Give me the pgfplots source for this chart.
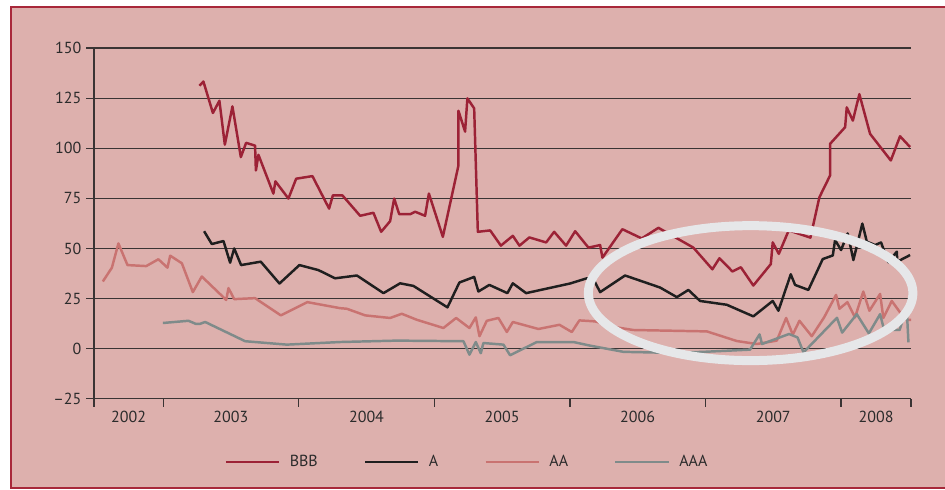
\documentclass[border=0pt]{standalone}
\usepackage{fontspec}
\setmainfont{PT Sans}
\usepackage{pgfplots}
\pgfplotsset{compat=1.18}
\definecolor{bgpink}{HTML}{DDB0AD}
\definecolor{framec}{HTML}{A8283A}
\definecolor{cBBB}{HTML}{9C2236}
\definecolor{cA}{HTML}{1F1F1F}
\definecolor{cAA}{HTML}{C97371}
\definecolor{cAAA}{HTML}{7F8B8A}
\definecolor{ringc}{HTML}{E6E7E9}
\definecolor{gridc}{HTML}{3A3434}
\definecolor{textc}{HTML}{2B2B2B}

\begin{document}
\begin{tikzpicture}
\useasboundingbox (0,0) rectangle (708.75pt,366.75pt);
\fill[white] (0,0) rectangle (708.75pt,366.75pt);
\draw[framec, fill=bgpink, line width=1.6pt] (8.25pt,0.8pt) rectangle (715pt,361.8pt);
\begin{axis}[
  at={(70.5pt,67.7pt)}, anchor=south west,
  scale only axis, width=612.75pt, height=263pt,
  xmin=2002.49, xmax=2008.516, ymin=-25, ymax=150,
  axis lines=left, axis line style={-, gridc, line width=0.95pt},
  ymajorgrids, grid style={gridc, line width=0.95pt},
  ytick={-25,0,25,50,75,100,125,150},
  yticklabels={--25,0,25,50,75,100,125,150},
  xtick={2002.745,2003.5,2004.5,2005.5,2006.5,2007.5,2008.258},
  xticklabels={2002,2003,2004,2005,2006,2007,2008},
  minor xtick={2002.49,2003,2004,2005,2006,2007,2008,2008.516},
  major x tick style={draw=none},
  tick align=outside, major tick length=6pt, minor tick length=6pt,
  tick style={gridc, line width=0.95pt},
  tick label style={font=\fontsize{12}{14}\selectfont, text=textc},
  legend style={at={(0.457,-0.1805)}, anchor=center, draw=none, fill=none,
    legend columns=4, font=\fontsize{12}{14}\selectfont, text=textc,
    /tikz/every even column/.append style={column sep=32.5pt},
    /tikz/every odd column/.append style={column sep=5pt}},
  legend image code/.code={\draw[#1] (0pt,0pt) -- (40pt,0pt);},
  every axis plot/.append style={line width=1.85pt, line join=round},
]
\addplot[cBBB] coordinates {
(2003.268,131.2)(2003.297,133.3)(2003.367,117.6)(2003.415,123.7)(2003.455,101.8)
(2003.511,120.9)(2003.573,95.6)(2003.612,102.7)(2003.678,101.3)(2003.684,88.9)
(2003.703,96.7)(2003.813,77.4)(2003.828,83.5)(2003.924,74.9)(2003.981,84.8)
(2004.101,86.1)(2004.224,69.9)(2004.252,76.5)(2004.322,76.5)(2004.453,66.3)
(2004.551,67.8)(2004.608,58.3)(2004.674,63.6)(2004.704,74.9)(2004.741,67.1)
(2004.822,67.1)(2004.859,68.3)(2004.932,66.3)(2004.960,77.4)(2005.063,55.8)
(2005.178,91.4)(2005.178,118.7)(2005.227,108.3)(2005.244,124.9)(2005.294,119.9)
(2005.321,58.3)(2005.412,59.0)(2005.491,51.4)(2005.579,56.3)(2005.628,51.4)
(2005.701,55.5)(2005.825,53.0)(2005.884,58.3)(2005.972,51.4)(2006.039,58.6)
(2006.137,50.4)(2006.223,51.7)(2006.240,45.4)(2006.387,59.6)(2006.530,55.0)
(2006.653,60.3)(2006.911,50.4)(2007.051,39.6)(2007.103,45.1)(2007.199,38.5)
(2007.261,40.6)(2007.353,31.5)(2007.482,42.2)(2007.496,53.0)(2007.541,47.3)
(2007.614,59.0)(2007.774,55.4)(2007.840,75.5)(2007.919,86.4)(2007.919,102.2)
(2008.030,110.5)(2008.042,120.4)(2008.087,113.8)(2008.135,127.0)(2008.214,107.2)
(2008.367,93.9)(2008.435,106.0)(2008.509,100.6)
};
\addlegendentry{BBB}
\addplot[cA] coordinates {
(2003.302,58.6)(2003.359,52.2)(2003.445,53.7)(2003.494,42.9)(2003.524,50.0)
(2003.575,41.7)(2003.720,43.4)(2003.858,32.5)(2004.005,41.7)(2004.145,39.2)
(2004.268,35.1)(2004.429,36.5)(2004.625,27.7)(2004.748,32.6)(2004.846,31.3)
(2005.097,20.6)(2005.185,33.0)(2005.294,35.8)(2005.325,28.5)(2005.406,31.8)
(2005.539,27.7)(2005.579,32.6)(2005.677,27.7)(2006.001,32.5)(2006.125,35.1)
(2006.178,34.1)(2006.223,28.2)(2006.407,36.5)(2006.665,30.5)(2006.789,25.7)
(2006.874,29.3)(2006.960,23.8)(2007.157,21.9)(2007.353,16.1)(2007.496,23.8)
(2007.538,18.9)(2007.629,37.1)(2007.661,31.8)(2007.759,29.3)(2007.865,44.7)
(2007.939,46.5)(2007.956,54.2)(2008.000,49.2)(2008.049,57.5)(2008.091,44.2)
(2008.157,62.4)(2008.190,53.4)(2008.251,51.7)(2008.295,53.0)(2008.349,43.1)
(2008.411,48.4)(2008.415,43.4)(2008.509,46.7)
};
\addlegendentry{A}
\addplot[cAA] coordinates {
(2002.555,33.5)(2002.622,40.4)(2002.670,52.5)(2002.737,41.7)(2002.875,41.2)
(2002.965,44.6)(2003.032,40.4)(2003.052,46.4)(2003.138,42.6)(2003.219,28.2)
(2003.285,36.0)(2003.465,24.3)(2003.482,30.2)(2003.524,24.7)(2003.678,25.2)
(2003.868,16.6)(2004.064,23.2)(2004.305,20.2)(2004.355,19.9)(2004.490,16.6)
(2004.674,15.3)(2004.760,17.4)(2004.871,14.4)(2005.067,10.3)(2005.161,15.3)
(2005.259,10.3)(2005.306,15.6)(2005.333,6.2)(2005.387,13.9)(2005.473,15.3)
(2005.535,8.3)(2005.579,13.3)(2005.768,9.8)(2005.923,11.9)(2006.014,8.3)
(2006.070,14.1)(2006.186,13.6)(2006.346,10.6)(2006.468,9.3)(2007.010,8.6)
(2007.231,3.8)(2007.378,2.3)(2007.526,4.0)(2007.595,15.3)(2007.644,7.0)
(2007.693,13.9)(2007.784,6.2)(2007.875,15.6)(2007.963,26.8)(2007.988,19.9)
(2008.047,23.2)(2008.103,15.6)(2008.164,28.5)(2008.209,18.9)(2008.288,27.3)
(2008.312,15.3)(2008.374,23.8)(2008.448,16.9)(2008.479,14.4)(2008.516,14.4)
};
\addlegendentry{AA}
\addplot[cAAA] coordinates {
(2002.998,12.8)(2003.187,13.9)(2003.243,12.3)(2003.273,12.4)(2003.310,13.3)
(2003.605,3.7)(2003.912,2.0)(2004.305,3.3)(2004.724,4.0)(2005.215,3.7)
(2005.259,-3.0)(2005.306,3.3)(2005.343,-2.3)(2005.362,2.8)(2005.510,2.0)
(2005.559,-3.3)(2005.756,3.3)(2006.026,3.3)(2006.149,1.5)(2006.395,-1.6)
(2006.739,-2.1)(2006.985,-1.6)(2007.329,-0.5)(2007.399,7.1)(2007.417,2.3)
(2007.616,7.3)(2007.679,5.6)(2007.723,-1.9)(2007.970,15.4)(2008.008,8.0)
(2008.116,17.2)(2008.205,7.6)(2008.288,17.2)(2008.317,9.5)(2008.432,9.3)
(2008.484,20.7)(2008.497,3.1)
};
\addlegendentry{AAA}
\coordinate (ec) at (axis cs:2007.333,27.7);
\end{axis}
\draw[ringc, line width=6.75pt] (ec) ellipse [x radius=121.7pt, y radius=50.6pt];
\end{tikzpicture}
\end{document}
